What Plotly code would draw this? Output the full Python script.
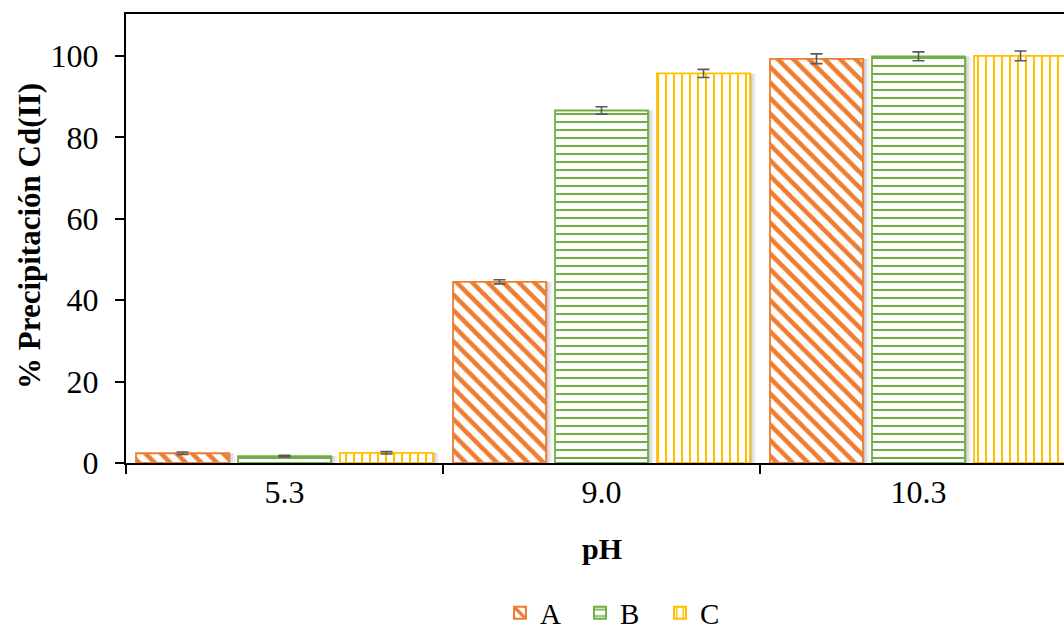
import plotly.graph_objects as go

# pH categories and % Cd(II) precipitation for the three samples
ph_labels = ["5.3", "9.0", "10.3"]
series_names = ["A", "B", "C"]
values_a = [2.4, 44.5, 99.3]
values_b = [1.7, 86.6, 99.9]
values_c = [2.5, 95.7, 100.0]
errors_a = [0.3, 0.5, 1.2]
errors_b = [0.2, 0.9, 1.1]
errors_c = [0.3, 1.0, 1.2]
y_ticks = [0, 20, 40, 60, 80, 100]

colors = ["#ED7D31", "#70AD47", "#FFC000"]
patterns = [dict(shape="\\", size=11, solidity=0.42),
            dict(shape="-", size=8, solidity=0.26),
            dict(shape="|", size=8, solidity=0.26)]

FONT = "Liberation Serif"
W, H = 1064, 633
ML, MT, MB = 126, 14, 170
plot_w = W - ML
plot_h = H - MT - MB
cat_px = 317.0                      # pixel width of one category slot
slot = 102.0 / cat_px               # spacing between bars within a group
bar_w = 93.0 / cat_px               # bar width in category units
x_end = -0.5 + plot_w / cat_px

fig = go.Figure()

series = [(values_a, errors_a), (values_b, errors_b), (values_c, errors_c)]

# soft drop shadow to the right of each bar
for i, (vals, _) in enumerate(series):
    base_off = (i - 1) * slot - bar_w / 2
    for shift_px, alpha in [(2, 0.10), (4, 0.08), (6, 0.05)]:
        fig.add_trace(go.Bar(
            x=ph_labels, y=vals, width=bar_w, offset=base_off + shift_px / cat_px,
            marker=dict(color=f"rgba(0,0,0,{alpha})", line=dict(width=0)),
            showlegend=False, hoverinfo="skip"))

for i, ((vals, errs), name) in enumerate(zip(series, series_names)):
    fig.add_trace(go.Bar(
        x=ph_labels, y=vals, name=name,
        width=bar_w, offset=(i - 1) * slot - bar_w / 2,
        marker=dict(color="white",
                    line=dict(color=colors[i], width=1.8),
                    pattern=dict(fgcolor=colors[i], bgcolor="white",
                                 fgopacity=1, fillmode="overlay", **patterns[i])),
        error_y=dict(type="data", array=errs, visible=True,
                     color="#595959", thickness=1.6, width=6)))

fig.update_layout(
    width=W, height=H,
    margin=dict(l=ML, r=0, t=MT, b=MB, autoexpand=False),
    barmode="overlay",
    plot_bgcolor="white", paper_bgcolor="white",
    font=dict(family=FONT, size=30, color="black"),
    legend=dict(orientation="h", x=(620 - ML) / plot_w, xanchor="center",
                y=-(613 - (H - MB)) / plot_h, yanchor="middle",
                font=dict(family=FONT, size=29), entrywidth=35,
                itemsizing="constant", bgcolor="rgba(0,0,0,0)"),
    xaxis=dict(type="category", range=[-0.5, x_end], tickson="boundaries",
               showline=True, linecolor="black", linewidth=2, mirror=True,
               ticks="outside", ticklen=9, tickwidth=2, tickcolor="black",
               showgrid=False, automargin=False,
               tickfont=dict(family=FONT, size=32)),
    yaxis=dict(range=[0, 110.3], tickvals=y_ticks,
               showline=True, linecolor="black", linewidth=2,
               ticks="outside", ticklen=9, tickwidth=2, tickcolor="black",
               showgrid=False, zeroline=False, automargin=False,
               ticklabelstandoff=10,
               tickfont=dict(family=FONT, size=32)),
    annotations=[
        dict(text="<b>pH</b>", xref="paper", yref="paper",
             x=(602 - ML) / plot_w, y=-(548 - (H - MB)) / plot_h,
             xanchor="center", yanchor="middle", showarrow=False,
             font=dict(family=FONT, size=30)),
        dict(text="<b>% Precipitación Cd(II)</b>", xref="paper", yref="paper",
             x=(29 - ML) / plot_w, y=((H - MB) - 236) / plot_h,
             xanchor="center", yanchor="middle", showarrow=False, textangle=-90,
             font=dict(family=FONT, size=31)),
    ],
)

fig.write_html("out.html")
